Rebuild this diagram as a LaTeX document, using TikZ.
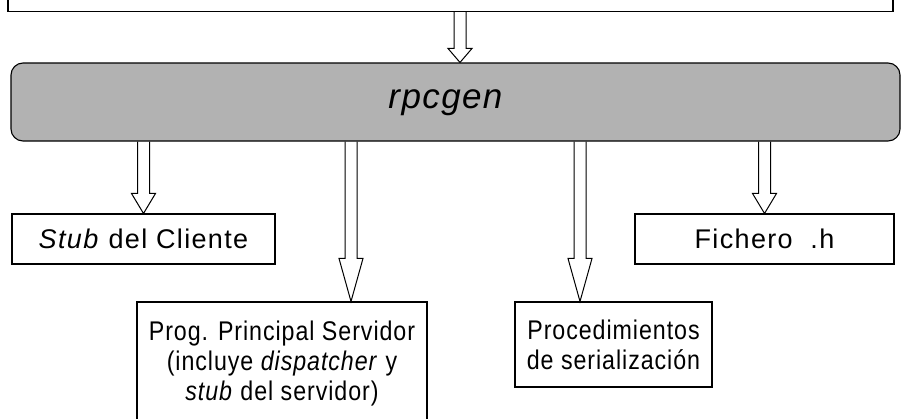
\documentclass[tikz,border=0pt]{standalone}
\usepackage{fontspec}
\setmainfont{Liberation Sans}
\newfontfamily\upperfont{Liberation Sans}[LetterSpace=5]
\newfontfamily\lowerfont{Liberation Sans}[LetterSpace=3.5, FakeStretch=0.86]
\newfontfamily\genfont{Liberation Sans}[LetterSpace=4]
\usetikzlibrary{calc}
\tikzset{
  x=1pt, y=1pt,
  boxline/.style={draw=black, line width=1.1pt, inner sep=0pt},
  plainbox/.style={boxline, rectangle, align=center},
  upperbox/.style={plainbox, font=\upperfont\fontsize{27}{31}\selectfont},
  lowerbox/.style={plainbox, font=\lowerfont\fontsize{27}{30}\selectfont},
  genbox/.style={boxline, rounded corners=12pt, fill=black!30},
  hollowarrow/.style={draw=black, line width=1pt, line join=miter,
    to path={let \p1=(\tikztostart), \p2=(\tikztotarget) in
      (\x1-6pt,\y1) -- (\x1-6pt,\y2+#1) -- (\x1-12pt,\y2+#1) -- (\x1,\y2)
      -- (\x1+12pt,\y2+#1) -- (\x1+6pt,\y2+#1) -- (\x1+6pt,\y1)}},
}
\begin{document}
\begin{tikzpicture}
\useasboundingbox (0,0) rectangle (901,-418);
\clip (0,0) rectangle (901,-418);
% source box (only its bottom part visible)
\node[boxline, minimum width=885pt, minimum height=22pt] (src) at (450.5,-0.5) {};
% rpcgen
\node[genbox, minimum width=889pt, minimum height=78pt,
  label={[font=\genfont\fontsize{35}{38}\selectfont\itshape, xshift=-10pt, yshift=-1pt]center:rpcgen}] (rpc) at (455.5,-102) {};
% output boxes
\node[upperbox, minimum width=263pt, minimum height=50pt] (stub) at (143.5,-239) {\textit{Stub} del Cliente};
\node[upperbox, minimum width=259pt, minimum height=50pt] (fich) at (764.5,-239) {Fichero\ \ .h};
\node[lowerbox, minimum width=290pt, minimum height=123pt] (prog) at (282,-363.5)
  {Prog. Principal Servidor\\(incluye \textit{dispatcher} y\\\textit{stub} del servidor)};
\node[lowerbox, minimum width=197pt, minimum height=85pt] (proc) at (613.5,-344.5)
  {Procedimientos\\de serialización};
% arrow x positions
\coordinate (xs) at (351,0);
\coordinate (xp) at (580,0);
\coordinate (xt) at (460,0);
% arrows
\draw[hollowarrow=14pt] (src.south -| xt) to (rpc.north -| xt);
\draw[hollowarrow=20pt] (rpc.south -| stub.north) to (stub.north);
\draw[hollowarrow=43pt] (rpc.south -| xs) to (prog.north -| xs);
\draw[hollowarrow=43pt] (rpc.south -| xp) to (proc.north -| xp);
\draw[hollowarrow=20pt] (rpc.south -| fich.north) to (fich.north);
\end{tikzpicture}
\end{document}
